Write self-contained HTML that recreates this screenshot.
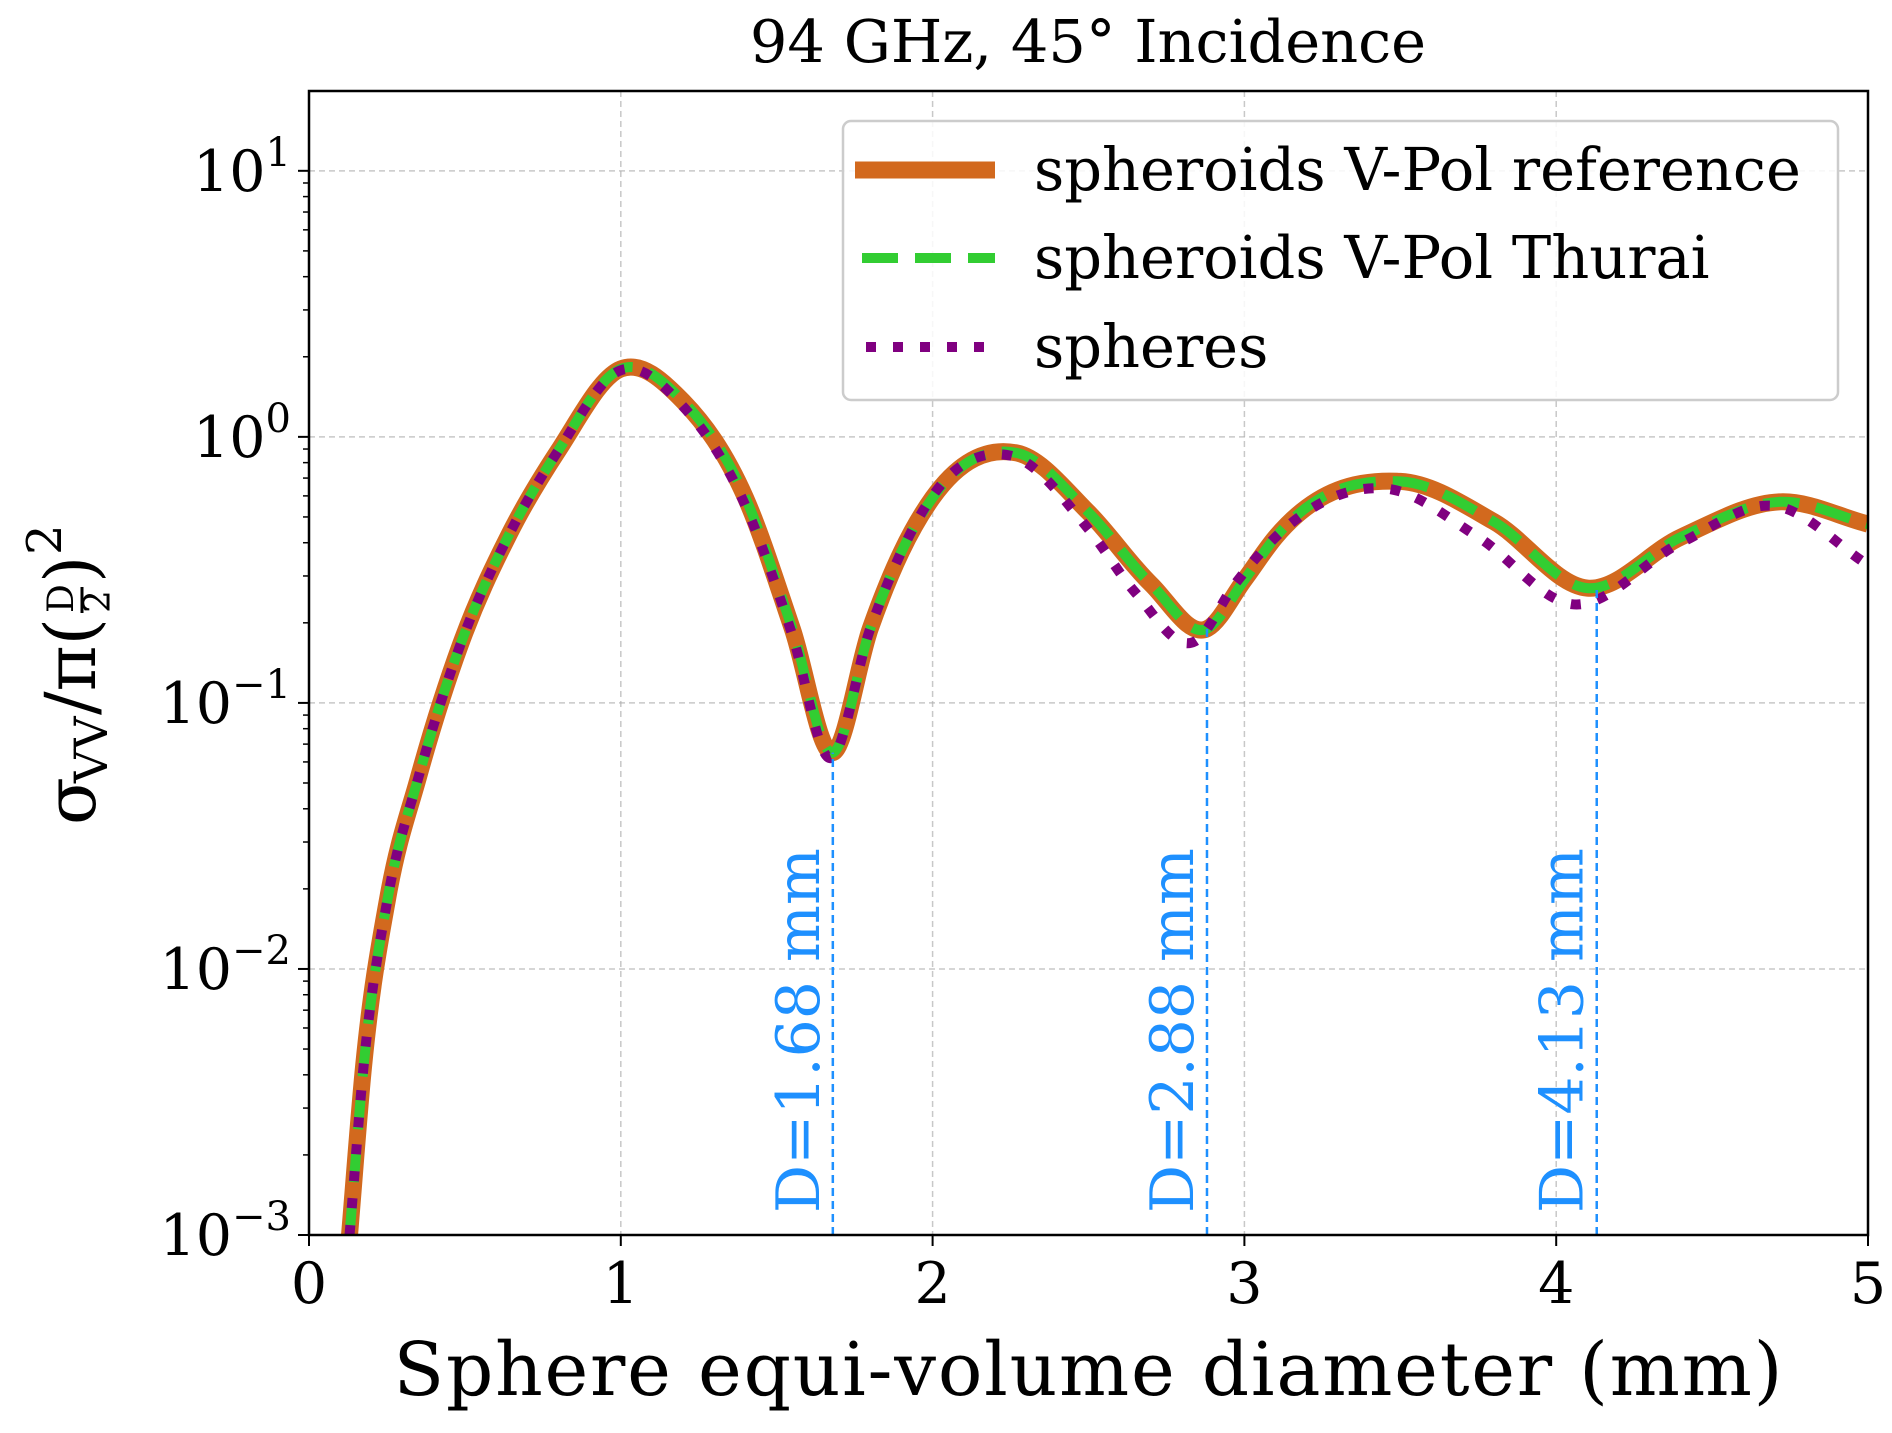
<!DOCTYPE html>
<html><head><meta charset="utf-8"><style>
html,body{margin:0;padding:0;background:#fff}
svg text{font-family:"DejaVu Serif","Liberation Serif",serif}
</style></head><body>
<svg id="chart" width="1892" height="1428" viewBox="0 0 1892 1428" xmlns="http://www.w3.org/2000/svg">
<rect width="1892" height="1428" fill="#fff"/>
<g id="grid"></g>
<g id="series"></g>
<g id="vlines"></g>
<rect x="309" y="91" width="1559" height="1144" fill="none" stroke="#000" stroke-width="2.5"/>
<g id="axes"></g>
<text x="1088" y="62" font-size="59" text-anchor="middle">94 GHz, 45° Incidence</text>
<text x="1088" y="1395" font-size="74" text-anchor="middle" textLength="1389">Sphere equi-volume diameter (mm)</text>
<g transform="translate(95,655) rotate(-90)">
<text x="-170" y="0" font-size="70" font-family="DejaVu Sans, sans-serif">σ</text>
<text x="-128" y="12" font-size="46" font-family="DejaVu Sans, sans-serif">VV</text>
<text x="-60" y="0" font-size="70" font-family="DejaVu Sans, sans-serif">/π(</text>
<text x="42" y="-22" font-size="36" font-family="DejaVu Sans, sans-serif">D</text>
<line x1="42" y1="-13" x2="68" y2="-13" stroke="#000" stroke-width="3"/>
<text x="42" y="15" font-size="36" font-family="DejaVu Sans, sans-serif">2</text>
<text x="72" y="0" font-size="70" font-family="DejaVu Sans, sans-serif">)</text>
<text x="100" y="-34" font-size="48" font-family="DejaVu Sans, sans-serif">2</text>
</g>
<g id="legend">
<rect x="843" y="121" width="995" height="279" rx="8" fill="#fff" fill-opacity="0.85" stroke="#ccc" stroke-width="2.5"/>
<g>
<line x1="855" y1="170" x2="995" y2="170" stroke="#d2691e" stroke-width="17"/>
<text x="1034" y="190" font-size="59">spheroids V-Pol reference</text></g>
<g>
<line x1="862" y1="258" x2="995" y2="258" stroke="#32cd32" stroke-width="10" stroke-dasharray="36,17"/>
<text x="1034" y="278" font-size="59">spheroids V-Pol Thurai</text></g>
<g>
<line x1="866" y1="347" x2="995" y2="347" stroke="#800080" stroke-width="10" stroke-dasharray="10,17"/>
<text x="1034" y="367" font-size="59">spheres</text></g>
</g>
</svg>
<script>
const xTicks=[0,1,2,3,4,5];
const yDecades=[-3,-2,-1,0,1];
const refX=[0.13,0.175,0.253,0.35,0.486,0.642,0.8,1.0,1.2,1.4,1.55,1.68,1.8,1.9,2.0,2.27,2.5,2.7,2.88,3.0,3.1,3.5,3.8,4.1,4.4,4.72,5.0];
const refY=[0.001,0.0043,0.0186,0.052,0.166,0.43,0.89,1.8,1.36,0.59,0.19,0.065,0.19,0.37,0.59,0.87,0.52,0.28,0.19,0.29,0.42,0.68,0.48,0.27,0.42,0.57,0.47];
const sphX=[0.13,0.175,0.253,0.35,0.486,0.642,0.8,1.0,1.2,1.4,1.55,1.67,1.8,1.9,2.0,2.25,2.5,2.65,2.84,2.97,3.1,3.45,3.75,4.05,4.4,4.7,5.0];
const sphY=[0.001,0.0043,0.0186,0.052,0.166,0.43,0.89,1.78,1.3,0.55,0.18,0.062,0.19,0.37,0.6,0.85,0.45,0.26,0.17,0.28,0.42,0.64,0.42,0.235,0.4,0.55,0.33];
const markX=[1.68,2.88,4.13];
const markY=[0.065,0.19,0.27];
const markLabels=["D=1.68 mm","D=2.88 mm","D=4.13 mm"];
const L=309,R=1868,T=91,B=1235,yMin=-3,yMax=1.3;
const sx=v=>L+(v-0)/(5-0)*(R-L);
const sy=v=>B-(Math.log10(v)-yMin)/(yMax-yMin)*(B-T);
const NS="http://www.w3.org/2000/svg";
function mk(tag,attrs,parent){const e=document.createElementNS(NS,tag);for(const k in attrs)e.setAttribute(k,attrs[k]);parent.appendChild(e);return e;}
const grid=document.getElementById('grid'),axes=document.getElementById('axes');
xTicks.forEach(t=>{
 const g=mk('line',{x1:sx(t),x2:sx(t),y1:T,y2:B,stroke:'#b0b0b0','stroke-width':1.5,'stroke-dasharray':'6,4','stroke-opacity':0.7},grid);
 
 const tk=mk('line',{x1:sx(t),x2:sx(t),y1:B,y2:B+11,stroke:'#000','stroke-width':2},axes);
 
 const tx=mk('text',{x:sx(t),y:B+68,'font-size':57,'text-anchor':'middle'},axes);tx.textContent=t;
 
});
yDecades.forEach(d=>{
 const y=sy(Math.pow(10,d));
 const g=mk('line',{x1:L,x2:R,y1:y,y2:y,stroke:'#b0b0b0','stroke-width':1.5,'stroke-dasharray':'6,4','stroke-opacity':0.7},grid);
 
 const tk=mk('line',{x1:L-11,x2:L,y1:y,y2:y,stroke:'#000','stroke-width':2},axes);
 
 const tx=mk('text',{x:L-18,y:y+20,'font-size':57,'text-anchor':'end'},axes);
 
 const a=mk('tspan',{},tx);a.textContent='10';
 const b=mk('tspan',{dy:-25,'font-size':40},tx);b.textContent=(d<0?'−':'')+Math.abs(d);
 for(let m=2;m<=9;m++){const v=m*Math.pow(10,d);if(Math.log10(v)>yMax)break;
  const yy=sy(v);const mt=mk('line',{x1:L-6,x2:L,y1:yy,y2:yy,stroke:'#000','stroke-width':1.5},axes);
  }
});
function pathFrom(xs,ys){
 const X=xs.map(sx),Y=ys.map(sy),n=X.length,m=[];
 for(let i=0;i<n;i++){
  if(i===0)m.push((Y[1]-Y[0])/(X[1]-X[0]));
  else if(i===n-1)m.push((Y[n-1]-Y[n-2])/(X[n-1]-X[n-2]));
  else{const h0=X[i]-X[i-1],h1=X[i+1]-X[i],d0=(Y[i]-Y[i-1])/h0,d1=(Y[i+1]-Y[i])/h1;m.push((d0*h1+d1*h0)/(h0+h1));}
 }
 let d='M'+X[0]+','+Y[0];
 for(let i=0;i<n-1;i++){const h=X[i+1]-X[i];
  d+=` C${X[i]+h/3},${Y[i]+m[i]*h/3} ${X[i+1]-h/3},${Y[i+1]-m[i+1]*h/3} ${X[i+1]},${Y[i+1]}`;}
 return d;}
const ser=document.getElementById('series');
const cp=mk('clipPath',{id:'clip'},ser);mk('rect',{x:L,y:T,width:R-L,height:B-T},cp);
const s1=mk('path',{d:pathFrom(refX,refY),fill:'none',stroke:'#d2691e','stroke-width':17,'clip-path':'url(#clip)','stroke-linejoin':'round'},ser);

const s2=mk('path',{d:pathFrom(refX,refY),fill:'none',stroke:'#32cd32','stroke-width':10,'stroke-dasharray':'36,17','clip-path':'url(#clip)'},ser);

const s3=mk('path',{d:pathFrom(sphX,sphY),fill:'none',stroke:'#800080','stroke-width':10,'stroke-dasharray':'10,17','clip-path':'url(#clip)'},ser);

const vl=document.getElementById('vlines');
markX.forEach((m,i)=>{
 const l=mk('line',{x1:sx(m),x2:sx(m),y1:B,y2:sy(markY[i]),stroke:'#1e90ff','stroke-width':2.5,'stroke-dasharray':'8,5'},vl);
 
 const t=mk('text',{x:0,y:0,'font-size':60,fill:'#1e90ff',transform:`translate(${sx(m)-14},${B-22}) rotate(-90)`},vl);
 t.textContent=markLabels[i];
 
});
</script>
</body></html>
